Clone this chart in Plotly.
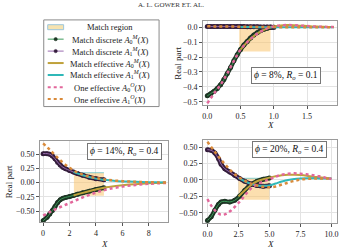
import plotly.graph_objects as go

# ---------------- data ----------------
# Panel A: phi = 8%, Ro = 0.1
a_x_disc = [0, 0.05, 0.1, 0.15, 0.2, 0.25, 0.3, 0.35, 0.4, 0.45, 0.5, 0.55, 0.6, 0.65, 0.7, 0.75, 0.8, 0.85, 0.9, 0.95, 1.0]
a_disc0 = [-0.46, -0.445, -0.43, -0.41, -0.385, -0.35, -0.31, -0.27, -0.225, -0.185, -0.15, -0.12, -0.095, -0.072, -0.053, -0.037, -0.024, -0.014, -0.007, -0.002, 0.0]
a_disc1 = [0.004, 0.004, 0.004, 0.004, 0.004, 0.004, 0.004, 0.004, 0.004, 0.004, 0.004, 0.004, 0.003, 0.003, 0.003, 0.003, 0.002, 0.002, 0.001, 0.001, 0.0]
a_x_eff = [0.5, 0.6, 0.7, 0.8, 0.9, 1.0, 1.1, 1.2, 1.3, 1.4, 1.5, 1.6, 1.7, 1.8, 1.9]
a_eff0 = [-0.15, -0.1, -0.06, -0.03, -0.008, 0.005, 0.012, 0.014, 0.013, 0.01, 0.008, 0.005, 0.003, 0.002, 0.001]
a_eff1 = [0.001, 0.001, 0.0, 0.0, 0.0, 0.0, 0.0, 0.0, 0.0, 0.0, 0.0, 0.0, 0.0, 0.0, 0.0]
a_x_one = [0, 0.1, 0.2, 0.3, 0.4, 0.5, 0.6, 0.7, 0.8, 0.9, 1.0, 1.1, 1.2, 1.3, 1.4, 1.5, 1.6, 1.7, 1.8, 1.9]
a_one0 = [-0.51, -0.445, -0.385, -0.31, -0.225, -0.15, -0.1, -0.06, -0.03, -0.008, 0.005, 0.012, 0.014, 0.013, 0.01, 0.008, 0.005, 0.003, 0.002, 0.001]
a_one1 = [0.006, 0.005, 0.005, 0.004, 0.004, 0.003, 0.003, 0.002, 0.002, 0.001, 0.001, 0.0, 0.0, 0.0, 0.0, 0.0, 0.0, 0.0, 0.0, 0.0]
a_region_x = [0.48, 0.95]
a_region_y = [-0.162, 0.0]

# Panel B: phi = 14%, Ro = 0.4
b_x_disc = [0, 0.3, 0.5, 0.7, 0.9, 1.1, 1.3, 1.5, 1.7, 2.0, 2.3, 2.6, 3.0, 3.5, 4.0, 4.6]
b_disc1 = [0.51, 0.51, 0.50, 0.47, 0.42, 0.36, 0.31, 0.27, 0.245, 0.215, 0.185, 0.16, 0.13, 0.095, 0.07, 0.05]
b_disc0 = [-0.67, -0.61, -0.55, -0.49, -0.42, -0.35, -0.30, -0.275, -0.26, -0.245, -0.225, -0.205, -0.18, -0.15, -0.12, -0.09]
b_x_eff = [2.3, 3.0, 4.0, 4.6, 5.5, 6.5, 7.5, 8.5, 9.3]
b_eff0 = [-0.225, -0.18, -0.12, -0.09, -0.06, -0.035, -0.018, -0.008, -0.003]
b_eff1 = [0.185, 0.13, 0.07, 0.05, 0.03, 0.018, 0.01, 0.005, 0.002]
b_x_one = [0, 0.5, 1.0, 1.5, 2.0, 2.5, 3.0, 3.5, 4.0, 4.5, 5.0, 6.0, 7.0, 8.0, 9.3]
b_one0 = [-0.58, -0.52, -0.46, -0.41, -0.36, -0.31, -0.26, -0.215, -0.175, -0.14, -0.11, -0.07, -0.04, -0.02, -0.005]
b_one1 = [0.69, 0.58, 0.46, 0.35, 0.26, 0.19, 0.14, 0.105, 0.08, 0.06, 0.045, 0.025, 0.014, 0.007, 0.002]
b_region_x = [2.33, 4.6]
b_region_y = [-0.23, 0.174]

# Panel C: phi = 20%, Ro = 0.4
c_x_disc = [0, 0.3, 0.6, 0.9, 1.1, 1.4, 1.8, 2.2, 2.6, 3.0, 3.5, 4.0, 4.5, 5.0]
c_disc1 = [0.46, 0.45, 0.41, 0.32, 0.24, 0.17, 0.12, 0.07, 0.02, -0.02, -0.06, -0.085, -0.095, -0.09]
c_disc0 = [-0.615, -0.56, -0.46, -0.37, -0.335, -0.325, -0.335, -0.31, -0.245, -0.16, -0.07, -0.02, 0.01, 0.03]
c_x_eff = [2.5, 3.0, 3.5, 4.0, 4.5, 5.0, 5.5, 6.0, 6.5, 7.0, 7.5, 8.0, 8.5, 9.0, 9.5, 10.0]
c_eff0 = [-0.25, -0.16, -0.08, -0.02, 0.01, 0.035, 0.055, 0.07, 0.078, 0.08, 0.075, 0.065, 0.05, 0.04, 0.03, 0.022]
c_eff1 = [0.03, -0.02, -0.06, -0.085, -0.09, -0.085, -0.055, -0.025, 0.0, 0.015, 0.022, 0.025, 0.025, 0.023, 0.021, 0.02]
c_x_one0 = [0, 0.3, 0.7, 1.1, 1.5, 1.9, 2.3, 2.7, 3.1, 3.6, 4.3, 5.0, 5.5, 6.0, 6.5, 7.0, 7.5, 8.0, 8.5, 9.0, 9.5, 10.0]
c_one0 = [-0.29, -0.39, -0.48, -0.53, -0.515, -0.465, -0.39, -0.31, -0.215, -0.115, -0.04, 0.01, 0.05, 0.08, 0.095, 0.1, 0.095, 0.085, 0.07, 0.055, 0.035, 0.015]
c_x_one1 = [0, 0.5, 1.0, 1.5, 2.0, 2.5, 3.0, 3.5, 4.0, 4.5, 5.0, 5.5, 6.0, 6.5, 7.0, 7.5, 8.0, 8.5, 9.0, 10.0]
c_one1 = [0.58, 0.45, 0.33, 0.22, 0.12, 0.045, -0.01, -0.055, -0.085, -0.105, -0.11, -0.1, -0.07, -0.04, -0.015, 0.005, 0.015, 0.02, 0.022, 0.02]
c_region_x = [2.5, 5.0]
c_region_y = [-0.30, 0.025]

legend_names = [
    "Match region",
    "Match discrete <i>A</i><sub>0</sub><sup><i>M</i></sup>(<i>X</i>)",
    "Match discrete <i>A</i><sub>1</sub><sup><i>M</i></sup>(<i>X</i>)",
    "Match effective <i>A</i><sub>0</sub><sup><i>M</i></sup>(<i>X</i>)",
    "Match effective <i>A</i><sub>1</sub><sup><i>M</i></sup>(<i>X</i>)",
    "One effective <i>A</i><sub>0</sub><sup><i>O</i></sup>(<i>X</i>)",
    "One effective <i>A</i><sub>1</sub><sup><i>O</i></sup>(<i>X</i>)",
]

# ---------------- styles ----------------
FONT = "Liberation Serif"
C_D0_LINE, C_D0_MK = "#3c9a5a", "#1d3524"
C_D1_LINE, C_D1_MK = "#9a6cb0", "#341d3c"
C_E0 = "#bfa13a"
C_E1 = "#2fb8b8"
C_O0 = "#e2679b"
C_O1 = "#d98a3a"
C_REG = "rgba(250,196,110,0.55)"

fig = go.Figure()

panels = [
    ("x", "y", a_x_disc, a_disc0, a_disc1, a_x_eff, a_eff0, a_eff1, a_x_one, a_one0, a_x_one, a_one1, a_region_x, a_region_y),
    ("x2", "y2", b_x_disc, b_disc0, b_disc1, b_x_eff, b_eff0, b_eff1, b_x_one, b_one0, b_x_one, b_one1, b_region_x, b_region_y),
    ("x3", "y3", c_x_disc, c_disc0, c_disc1, c_x_eff, c_eff0, c_eff1, c_x_one0, c_one0, c_x_one1, c_one1, c_region_x, c_region_y),
]

for (xa, ya, xd, d0, d1, xe, e0, e1, xo0, o0, xo1, o1, rx, ry) in panels:
    fig.add_trace(go.Scatter(x=[rx[0], rx[1], rx[1], rx[0], rx[0]], y=[ry[0], ry[0], ry[1], ry[1], ry[0]],
                             fill="toself", fillcolor=C_REG, line=dict(color="rgba(0,0,0,0)", width=0),
                             mode="lines", showlegend=False, xaxis=xa, yaxis=ya, hoverinfo="skip"))
    fig.add_trace(go.Scatter(x=[rx[0], rx[1]], y=[ry[1], ry[1]], mode="lines",
                             line=dict(color="rgba(80,190,200,0.7)", width=1),
                             showlegend=False, xaxis=xa, yaxis=ya, hoverinfo="skip"))
    for yy, lc, mc in ((d0, C_D0_LINE, C_D0_MK), (d1, C_D1_LINE, C_D1_MK)):
        fig.add_trace(go.Scatter(x=xd, y=yy, mode="lines+markers", line=dict(color=mc, width=4.5, shape="spline"),
                                 marker=dict(color=mc, size=5), showlegend=False, xaxis=xa, yaxis=ya))
        fig.add_trace(go.Scatter(x=xd, y=yy, mode="lines", line=dict(color=lc, width=1, shape="spline"),
                                 showlegend=False, xaxis=xa, yaxis=ya))
    fig.add_trace(go.Scatter(x=xe, y=e0, mode="lines", line=dict(color=C_E0, width=2, shape="spline"),
                             showlegend=False, xaxis=xa, yaxis=ya))
    fig.add_trace(go.Scatter(x=xe, y=e1, mode="lines", line=dict(color=C_E1, width=2, shape="spline"),
                             showlegend=False, xaxis=xa, yaxis=ya))
    fig.add_trace(go.Scatter(x=xo0, y=o0, mode="lines", line=dict(color=C_O0, width=2.5, dash="dot", shape="spline"),
                             showlegend=False, xaxis=xa, yaxis=ya))
    fig.add_trace(go.Scatter(x=xo1, y=o1, mode="lines", line=dict(color=C_O1, width=2.5, dash="dot", shape="spline"),
                             showlegend=False, xaxis=xa, yaxis=ya))

W, H = 342, 250
def px(x0, x1):
    return [x0 / W, x1 / W]
def py(top, bottom):
    return [1 - bottom / H, 1 - top / H]
def PX(v):
    return v / W
def PY(v):
    return 1 - v / H

axis_common = dict(showgrid=True, gridcolor="#e3e3e3", gridwidth=1, showline=True, linecolor="#9a9a9a",
                   linewidth=1, mirror=True, ticks="outside", ticklen=3, tickcolor="#555", zeroline=False,
                   tickfont=dict(family=FONT, size=8, color="#222"))

fig.update_layout(
    width=W, height=H, margin=dict(l=0, r=0, t=0, b=0),
    paper_bgcolor="white", plot_bgcolor="white",
    font=dict(family=FONT, size=8, color="#222"),
    showlegend=False,
    xaxis=dict(domain=px(203.3, 338), range=[-0.063, 1.95], anchor="y", tickvals=[0, 0.5, 1.0, 1.5],
               tickformat=".1f", **axis_common),
    yaxis=dict(domain=py(21, 105.7), range=[-0.523, 0.042], anchor="x",
               tickvals=[0, -0.1, -0.2, -0.3, -0.4, -0.5], tickformat=".1f", **axis_common),
    xaxis2=dict(domain=px(39.3, 168), range=[-0.23, 9.45], anchor="y2", tickvals=[0, 2, 4, 6, 8],
                tickformat="d", **axis_common),
    yaxis2=dict(domain=py(141.7, 223.3), range=[-0.70, 0.73], anchor="x2",
                tickvals=[-0.5, -0.25, 0, 0.25, 0.5], tickformat=".2f", **axis_common),
    xaxis3=dict(domain=px(203.3, 338.3), range=[-0.35, 10.47], anchor="y3", tickvals=[0, 2.5, 5, 7.5, 10],
                tickformat=".1f", **axis_common),
    yaxis3=dict(domain=py(141, 224), range=[-0.656, 0.60], anchor="x3",
                tickvals=[-0.5, -0.25, 0, 0.25, 0.5], tickformat=".2f", **axis_common),
)

# ---------------- manual legend ----------------
shapes = []
shapes.append(dict(type="rect", xref="paper", yref="paper", x0=PX(43), x1=PX(159), y0=PY(107), y1=PY(20),
                   fillcolor="white", line=dict(color="#8a8a8a", width=1), layer="above"))
rows = [27.3, 39.3, 51.3, 63.3, 75.3, 87.5, 99.5]
sx0, sx1 = 47, 63
shapes.append(dict(type="rect", xref="paper", yref="paper", x0=PX(sx0), x1=PX(sx1), y0=PY(rows[0] + 2.5),
                   y1=PY(rows[0] - 2.5), fillcolor="#f6e3b0", line=dict(color="#9cc6dc", width=1), layer="above"))
legend_styles = [
    None,
    dict(color=C_D0_LINE, width=1, dash="solid", mk=C_D0_MK),
    dict(color=C_D1_LINE, width=1, dash="solid", mk=C_D1_MK),
    dict(color=C_E0, width=2, dash="solid", mk=None),
    dict(color=C_E1, width=2, dash="solid", mk=None),
    dict(color=C_O0, width=2, dash="dot", mk=None),
    dict(color=C_O1, width=2, dash="dot", mk=None),
]
for i in range(1, 7):
    st = legend_styles[i]
    yv = PY(rows[i])
    shapes.append(dict(type="line", xref="paper", yref="paper", x0=PX(sx0), x1=PX(sx1), y0=yv, y1=yv,
                       line=dict(color=st["color"], width=st["width"], dash=st["dash"]), layer="above"))
    if st["mk"]:
        shapes.append(dict(type="circle", xref="paper", yref="paper", x0=PX(53.3), x1=PX(56.7),
                           y0=PY(rows[i] + 1.7), y1=PY(rows[i] - 1.7), fillcolor=st["mk"],
                           line=dict(color=st["mk"], width=0.5), layer="above"))
fig.update_layout(shapes=shapes)

for i, name in enumerate(legend_names):
    fig.add_annotation(text=name, x=PX(110), y=PY(rows[i]), xref="paper", yref="paper", showarrow=False,
                       xanchor="center", yanchor="middle", font=dict(family=FONT, size=8.5, color="#222"))

ann_font = dict(family=FONT, size=9.5, color="#111")
box = dict(bordercolor="#777", borderwidth=1, borderpad=2, bgcolor="white", showarrow=False,
           xref="paper", yref="paper", xanchor="center", yanchor="middle")
fig.add_annotation(text="<i>ϕ</i> = 8%, <i>R<sub>o</sub></i> = 0.1", x=PX(286.5), y=PY(76), font=ann_font, **box)
fig.add_annotation(text="<i>ϕ</i> = 14%, <i>R<sub>o</sub></i> = 0.4", x=PX(124.5), y=PY(152.5), font=ann_font, **box)
fig.add_annotation(text="<i>ϕ</i> = 20%, <i>R<sub>o</sub></i> = 0.4", x=PX(290), y=PY(150.5), font=ann_font, **box)

lab = dict(showarrow=False, xref="paper", yref="paper", xanchor="center", yanchor="middle",
           font=dict(family=FONT, size=9, color="#222"))
fig.add_annotation(text="A. L. GOWER ET. AL.", x=PX(171), y=PY(5.5), font=dict(family=FONT, size=7, color="#333"),
                   showarrow=False, xref="paper", yref="paper", xanchor="center", yanchor="middle")
fig.add_annotation(text="Real part", textangle=-90, x=PX(178), y=PY(63), **lab)
fig.add_annotation(text="Real part", textangle=-90, x=PX(8), y=PY(182), **lab)
fig.add_annotation(text="<i>X</i>", x=PX(271), y=PY(126), **lab)
fig.add_annotation(text="<i>X</i>", x=PX(104), y=PY(244.5), **lab)
fig.add_annotation(text="<i>X</i>", x=PX(271), y=PY(244.5), **lab)

fig.write_html("out.html")
